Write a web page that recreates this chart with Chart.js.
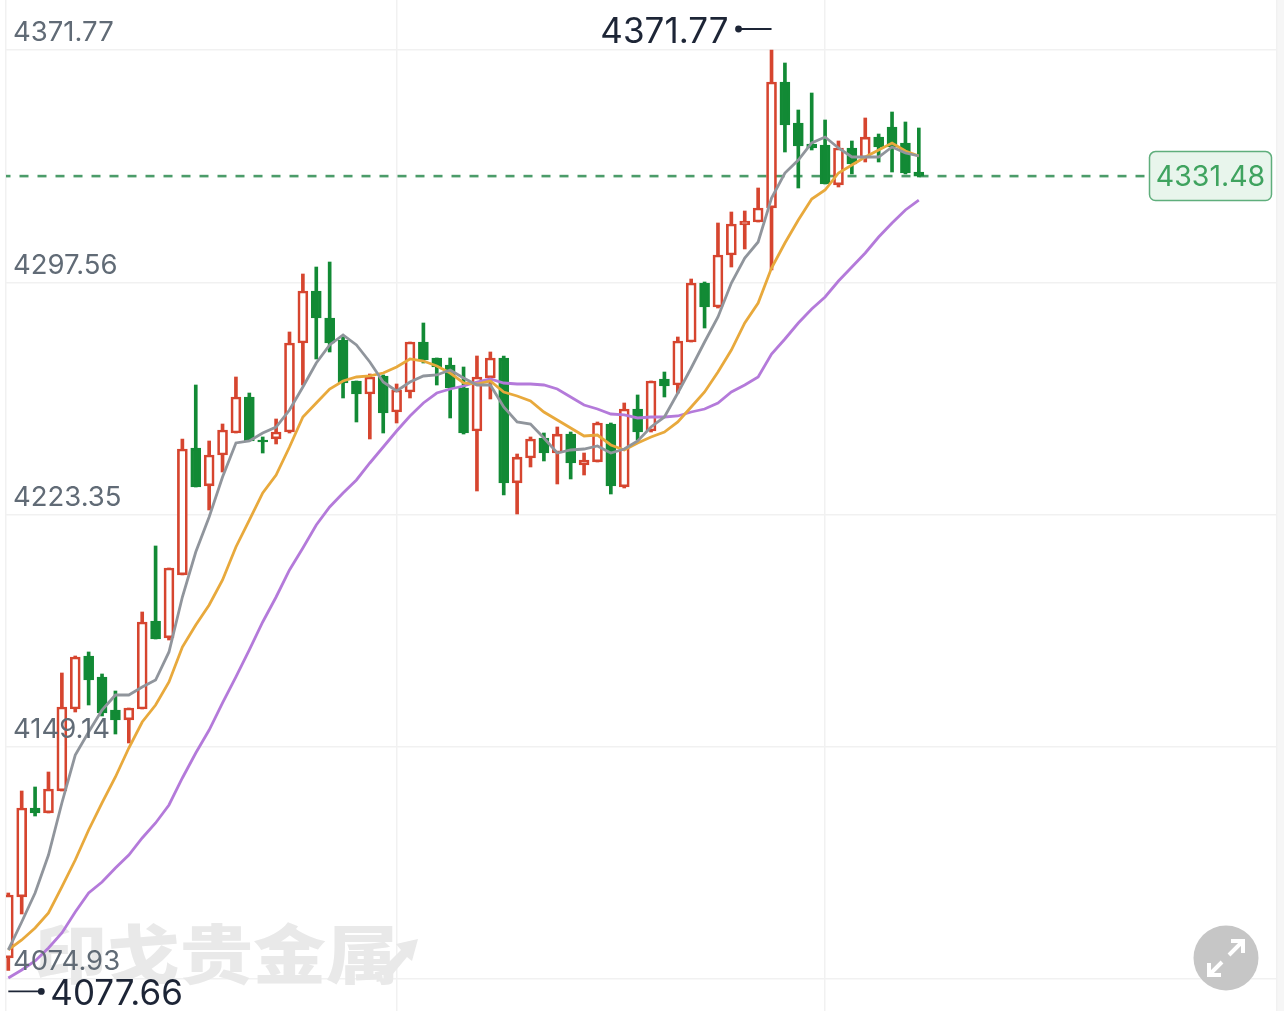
<!DOCTYPE html>
<html><head><meta charset="utf-8">
<style>html,body{margin:0;padding:0;background:#fff;overflow:hidden}canvas{display:block}</style>
<script src="https://cdn.jsdelivr.net/npm/chart.js@4"></script>
</head><body>
<canvas id="c" width="1284" height="1011"></canvas>
<script>
const opens=[4081.64,4101.13,4129.57,4127.97,4135.00,4161.20,4178.14,4171.43,4160.88,4157.69,4161.20,4189.32,4183.89,4204.02,4244.60,4232.46,4242.36,4249.39,4260.90,4247.16,4247.48,4249.71,4278.15,4294.77,4286.14,4279.11,4266.01,4261.85,4267.61,4256.10,4262.49,4278.47,4273.36,4271.12,4263.77,4250.03,4266.97,4273.36,4233.42,4241.40,4247.80,4243.00,4249.07,4239.17,4240.13,4252.27,4232.14,4257.06,4250.03,4266.65,4264.73,4278.47,4297.32,4289.65,4306.27,4315.86,4316.81,4321.29,4361.55,4348.45,4341.74,4341.42,4328.64,4340.46,4337.26,4343.97,4347.17,4342.06,4332.79];
const highs=[4102.41,4135.00,4136.28,4141.07,4172.71,4178.14,4179.42,4172.39,4166.95,4161.52,4192.20,4213.29,4206.26,4247.48,4264.73,4246.84,4252.27,4267.29,4262.17,4248.12,4253.87,4281.67,4300.20,4302.43,4304.03,4280.07,4266.01,4268.25,4267.93,4265.05,4278.47,4284.54,4273.36,4273.36,4270.48,4274.00,4275.28,4274.00,4242.68,4248.12,4249.39,4251.31,4249.71,4243.00,4252.91,4252.59,4258.98,4261.54,4266.01,4268.88,4280.07,4298.60,4297.64,4316.50,4320.01,4320.33,4327.68,4371.77,4367.62,4352.60,4358.03,4349.41,4342.70,4342.70,4350.05,4344.93,4351.96,4348.77,4346.85];
const lows=[4077.66,4095.70,4127.01,4127.97,4135.00,4160.24,4162.48,4158.97,4153.21,4150.34,4161.20,4183.57,4183.25,4204.02,4232.14,4224.79,4236.93,4249.39,4246.84,4243.00,4245.88,4249.39,4264.73,4273.04,4275.28,4260.58,4252.91,4247.48,4249.39,4252.59,4260.58,4271.76,4264.73,4254.19,4249.07,4230.86,4260.26,4229.58,4223.51,4238.53,4240.45,4233.10,4234.70,4235.97,4240.13,4229.90,4231.82,4247.16,4249.71,4260.90,4262.17,4278.47,4282.94,4289.33,4302.43,4308.19,4316.81,4301.48,4339.18,4327.68,4339.82,4328.96,4328.00,4332.15,4335.99,4335.99,4332.79,4332.15,4331.19];
const closes=[4101.77,4129.57,4127.97,4135.64,4161.84,4177.82,4170.47,4159.92,4157.69,4161.52,4189.00,4183.57,4206.26,4244.28,4232.14,4242.36,4250.35,4260.90,4246.84,4246.52,4249.71,4278.15,4294.77,4286.14,4278.15,4265.37,4261.85,4267.29,4255.78,4263.13,4278.47,4272.72,4270.48,4263.77,4249.39,4267.29,4273.36,4233.42,4241.72,4247.48,4243.00,4249.07,4239.81,4240.77,4252.59,4232.46,4257.06,4249.71,4266.01,4264.41,4278.79,4297.32,4289.65,4306.27,4316.18,4317.13,4321.29,4361.55,4347.81,4341.10,4340.46,4328.96,4340.46,4335.35,4343.97,4340.78,4340.78,4332.47,4331.48];
const maGrey=[4084.20,4093.14,4102.41,4114.55,4131.17,4146.50,4153.85,4160.88,4165.68,4165.68,4168.23,4170.47,4179.42,4196.99,4211.37,4222.55,4235.33,4246.20,4246.84,4249.39,4251.31,4256.74,4264.09,4271.76,4277.51,4280.71,4277.51,4272.08,4265.69,4262.81,4265.69,4267.61,4267.93,4269.52,4266.97,4264.73,4264.73,4257.70,4252.91,4252.27,4247.80,4243.00,4243.96,4244.28,4245.24,4243.00,4244.28,4246.84,4251.31,4254.51,4262.17,4270.16,4278.47,4286.46,4297.32,4305.31,4310.42,4324.48,4332.47,4336.62,4342.06,4343.97,4340.46,4337.58,4337.58,4337.58,4340.78,4338.86,4337.90];
const maOrange=[4084.20,4087.39,4091.23,4096.02,4104.33,4112.95,4122.54,4131.17,4139.47,4148.74,4157.05,4162.48,4169.83,4181.01,4188.04,4194.43,4202.42,4212.97,4221.59,4230.22,4235.97,4244.92,4254.51,4258.98,4263.45,4266.01,4267.29,4267.61,4268.56,4270.48,4273.04,4272.40,4270.80,4268.56,4265.37,4265.05,4266.01,4262.49,4261.22,4259.62,4256.10,4253.55,4250.99,4248.43,4248.75,4245.56,4243.96,4246.20,4248.12,4249.71,4252.91,4257.70,4262.49,4268.88,4275.91,4284.54,4290.93,4302.12,4310.10,4317.45,4324.16,4327.04,4332.47,4335.03,4337.58,4339.82,4342.06,4339.50,4337.90];
const maPurple=[4075.25,4077.80,4080.68,4084.84,4089.63,4096.34,4102.41,4105.92,4110.40,4114.55,4119.98,4124.78,4130.53,4139.16,4147.14,4154.49,4163.12,4171.43,4180.06,4189.00,4196.99,4205.62,4212.65,4220.00,4225.75,4230.22,4234.38,4239.81,4244.92,4250.03,4254.83,4258.98,4262.17,4263.45,4264.41,4265.69,4266.65,4265.37,4265.05,4265.05,4264.73,4263.45,4260.90,4258.34,4257.06,4255.46,4255.15,4254.19,4254.51,4254.51,4254.83,4256.10,4257.06,4258.98,4262.49,4264.73,4267.29,4274.64,4279.43,4284.54,4289.02,4292.85,4297.96,4302.43,4306.91,4312.02,4316.50,4320.65,4323.84];
const yTickValues=[4371.77,4297.56,4223.35,4149.14,4074.93];
const xGridCandles=[29,61];
const highestValue=4371.77, lowestValue=4077.66, lastValue=4331.48;
const highIndex=57, lowIndex=0;

const RED='#d6452f', GREEN='#128a35';
const X_MIN=-0.172, X_MAX=94.75, Y_MIN=4064.70, Y_MAX=4387.75, DASH_END=85.2;
const FONT='Inter, "Liberation Sans", Arial, sans-serif';
const idx=opens.map((_,i)=>i);
const isUp=i=>closes[i]>=opens[i];

const decor={
 id:'decor',
 beforeDraw(ch){
  const {ctx,chartArea:a,width,height}=ch;
  ctx.save();ctx.fillStyle='#fff';ctx.fillRect(0,0,width,height);
  ctx.fillStyle='#f6f6f6';ctx.fillRect(a.right,0,width-a.right,height);
  ctx.restore();
 },
 beforeDatasetsDraw(ch){
  const {ctx}=ch;
  ctx.save();
  ctx.fillStyle='#e9e9e9';
  ctx.font='900 76px "Noto Sans CJK SC"';
  ctx.textBaseline='alphabetic';ctx.textAlign='left';
  ctx.translate(34,978);ctx.scale(0.96,0.84);
  ctx.fillText('印戈贵金属',0,0);
  ctx.restore();
  ctx.save();
  ctx.fillStyle='#e9e9e9';
  ctx.beginPath();ctx.moveTo(418,939);ctx.lineTo(396,944);ctx.lineTo(401,950);ctx.lineTo(376,975);ctx.lineTo(392,975);ctx.lineTo(407,957);ctx.lineTo(412,961);ctx.closePath();ctx.fill();
  ctx.restore();
 },
 afterDraw(ch){
  const {ctx,scales:{x,y}}=ch;
  ctx.save();
  const hx=x.getPixelForValue(highIndex), hy=y.getPixelForValue(highestValue)-21;
  ctx.strokeStyle='#1d2536';ctx.fillStyle='#1d2536';ctx.lineWidth=1.8;
  ctx.beginPath();ctx.moveTo(hx,hy);ctx.lineTo(hx-33,hy);ctx.stroke();
  ctx.beginPath();ctx.arc(hx-33,hy,3.4,0,Math.PI*2);ctx.fill();
  ctx.font='35px '+FONT;ctx.textAlign='right';ctx.textBaseline='middle';
  ctx.fillText(highestValue.toFixed(2),hx-43,hy+3);
  const lx=x.getPixelForValue(lowIndex), ly=y.getPixelForValue(lowestValue)+21;
  ctx.beginPath();ctx.moveTo(lx,ly);ctx.lineTo(lx+33,ly);ctx.stroke();
  ctx.beginPath();ctx.arc(lx+33,ly,3.4,0,Math.PI*2);ctx.fill();
  ctx.textAlign='left';
  ctx.fillText(lowestValue.toFixed(2),lx+42,ly+3);
  const by=y.getPixelForValue(lastValue);
  ctx.beginPath();ctx.roundRect(1149.5,by-24.5,122,49,6);
  ctx.fillStyle='#e8f5ec';ctx.fill();ctx.strokeStyle='#5fae7c';ctx.lineWidth=1.5;ctx.stroke();
  ctx.fillStyle='#3fa35f';ctx.font='28.5px '+FONT;ctx.textAlign='center';ctx.textBaseline='middle';
  ctx.fillText(lastValue.toFixed(2),1210.5,by+1.5);
  ctx.beginPath();ctx.arc(1226,958,32.5,0,Math.PI*2);ctx.fillStyle='#c6c6c6';ctx.fill();
  ctx.strokeStyle='#fff';ctx.lineWidth=4;ctx.lineCap='butt';ctx.lineJoin='miter';
  ctx.beginPath();
  ctx.moveTo(1229,955);ctx.lineTo(1242,942);
  ctx.moveTo(1231,941);ctx.lineTo(1243,941);ctx.lineTo(1243,953);
  ctx.moveTo(1222,962);ctx.lineTo(1210,974);
  ctx.moveTo(1209,963);ctx.lineTo(1209,975);ctx.lineTo(1221,975);
  ctx.stroke();
  ctx.restore();
 }
};

const lineDs=(label,data,color)=>({type:'line',label,data:idx.map(i=>({x:i,y:data[i]})),borderColor:color,borderWidth:2.8,pointRadius:0,tension:0,fill:false,order:0});

new Chart(document.getElementById('c'),{
 type:'bar',
 data:{datasets:[
  lineDs('MA5',maGrey,'#90959c'),
  lineDs('MA10',maOrange,'#e8a93c'),
  lineDs('MA20',maPurple,'#b47ada'),
  {type:'bar',label:'body',order:1,grouped:false,barThickness:10,borderSkipped:false,borderWidth:2.7,
   data:idx.map(i=>({x:i,y:[opens[i],closes[i]]})),
   backgroundColor:idx.map(i=>isUp(i)?'#ffffff':GREEN),
   borderColor:idx.map(i=>isUp(i)?RED:GREEN)},
  {type:'bar',label:'wick',order:2,grouped:false,barThickness:3,borderWidth:0,
   data:idx.map(i=>({x:i,y:[lows[i],highs[i]]})),
   backgroundColor:idx.map(i=>isUp(i)?RED:GREEN)},
  {type:'line',label:'last',order:3,data:[{x:X_MIN,y:lastValue},{x:DASH_END,y:lastValue}],borderColor:'#4b9c69',borderWidth:2.6,borderDash:[9,9],borderDashOffset:4.5,pointRadius:0}
 ]},
 options:{
  responsive:false,animation:false,devicePixelRatio:1,
  layout:{padding:{left:6,right:7,top:0,bottom:0}},
  plugins:{legend:{display:false},tooltip:{enabled:false}},
  scales:{
   x:{type:'linear',min:X_MIN,max:X_MAX,offset:false,
    afterBuildTicks(s){s.ticks=[X_MIN,...xGridCandles,X_MAX].map(value=>({value}));},
    afterFit(s){s.height=0;s.paddingLeft=0;s.paddingRight=0;s.paddingTop=0;s.paddingBottom=0;},
    ticks:{display:false},
    grid:{offset:false,color:'#f1f1f1',lineWidth:1.5,drawTicks:false},border:{display:false}},
   y:{type:'linear',position:'left',min:Y_MIN,max:Y_MAX,
    afterBuildTicks(s){s.ticks=yTickValues.map(value=>({value}));},
    afterFit(s){s.width=0;s.paddingLeft=0;s.paddingRight=0;s.paddingTop=0;s.paddingBottom=0;},
    ticks:{mirror:true,padding:7,labelOffset:-17,z:1,autoSkip:false,color:'#616b76',font:{family:FONT,size:27.5},callback:v=>v.toFixed(2)},
    grid:{color:'#f1f1f1',lineWidth:1.5,drawTicks:false},border:{display:false}}
  }
 },
 plugins:[decor]
});
</script>
</body></html>
